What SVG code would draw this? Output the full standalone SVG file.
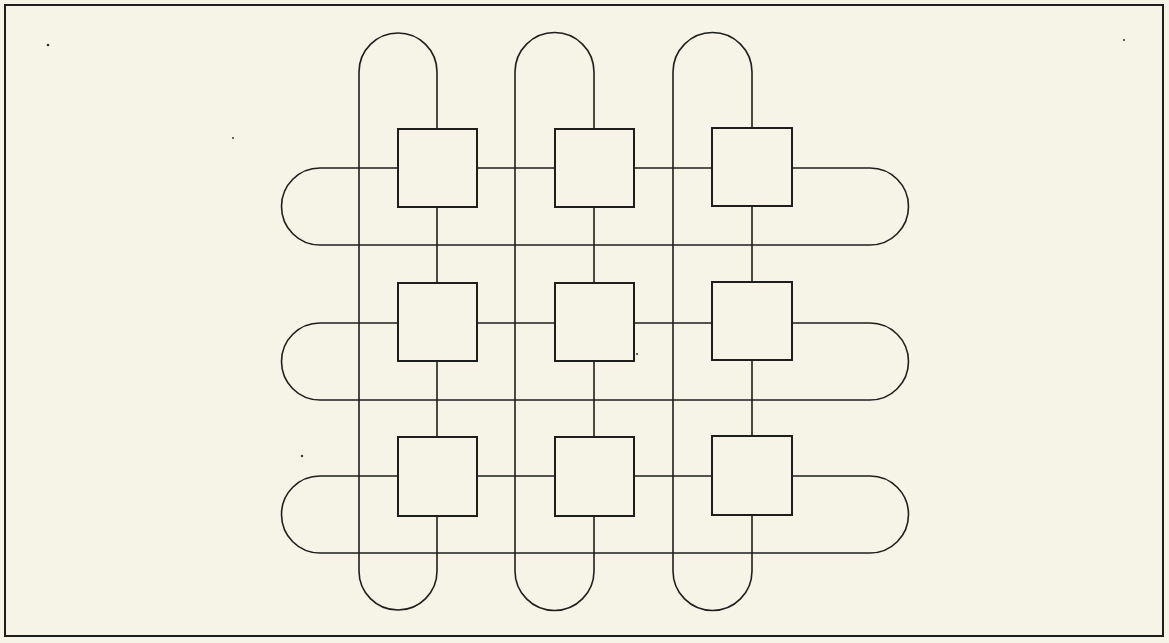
<svg xmlns="http://www.w3.org/2000/svg" width="1169" height="643" viewBox="0 0 1169 643">
<style>
.loop{fill:none;stroke:#1e1e1e;stroke-width:1.6}
.box{fill:#f6f4e6;stroke:#1e1e1e;stroke-width:2}
.frame{fill:#f6f4e6;stroke:#1e1e1e;stroke-width:2}
.speck{fill:#333}
</style>
<rect x="0" y="0" width="1169" height="643" fill="#f6f4e6"/>
<rect class="frame" x="5" y="5" width="1158" height="631"/>
<g id="connectors">
<path class="loop" d="M359,72 A39,39 0 0 1 437,72 V571 A39,39 0 0 1 359,571 Z"/>
<path class="loop" d="M515,72 A39.5,39.5 0 0 1 594,72 V571 A39.5,39.5 0 0 1 515,571 Z"/>
<path class="loop" d="M673,72 A39.5,39.5 0 0 1 752,72 V571 A39.5,39.5 0 0 1 673,571 Z"/>
<path class="loop" d="M320,168 H870 A38.5,38.5 0 0 1 870,245 H320 A38.5,38.5 0 0 1 320,168 Z"/>
<path class="loop" d="M320,323 H870 A38.5,38.5 0 0 1 870,400 H320 A38.5,38.5 0 0 1 320,323 Z"/>
<path class="loop" d="M320,476 H870 A38.5,38.5 0 0 1 870,553 H320 A38.5,38.5 0 0 1 320,476 Z"/>
</g>
<g id="n11"><rect class="box" x="398" y="129" width="79" height="78"/></g>
<g id="n12"><rect class="box" x="555" y="129" width="79" height="78"/></g>
<g id="n13"><rect class="box" x="712" y="128" width="80" height="78"/></g>
<g id="n21"><rect class="box" x="398" y="283" width="79" height="78"/></g>
<g id="n22"><rect class="box" x="555" y="283" width="79" height="78"/></g>
<g id="n23"><rect class="box" x="712" y="282" width="80" height="78"/></g>
<g id="n31"><rect class="box" x="398" y="437" width="79" height="79"/></g>
<g id="n32"><rect class="box" x="555" y="437" width="79" height="79"/></g>
<g id="n33"><rect class="box" x="712" y="436" width="80" height="79"/></g>
<g id="specks">
<circle class="speck" cx="48" cy="45" r="1.3"/>
<circle class="speck" cx="233" cy="138" r="1"/>
<circle class="speck" cx="302" cy="456" r="1.2"/>
<circle class="speck" cx="637" cy="354" r="1"/>
<circle class="speck" cx="1124" cy="40" r="1"/>
</g>
</svg>
